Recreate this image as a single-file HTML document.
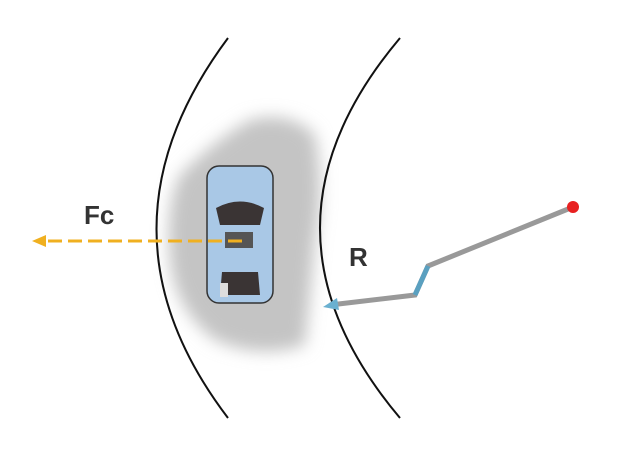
<!DOCTYPE html>
<html><head><style>body{margin:0;background:#fff}</style></head><body>
<svg width="631" height="461" xmlns="http://www.w3.org/2000/svg">
<defs><filter id="b" x="-30%" y="-30%" width="160%" height="160%"><feGaussianBlur stdDeviation="8"/></filter></defs>
<path d="M180,175 Q215,140 250,120 Q290,110 315,135 Q325,190 315,240 Q310,300 305,345 Q260,360 215,340 Q175,310 170,260 Q165,205 180,175Z" fill="#c4c4c4" filter="url(#b)"/>
<path d="M228,38 Q85,230 228,418" fill="none" stroke="#111" stroke-width="2"/>
<path d="M400,38 Q240,228 400,418" fill="none" stroke="#111" stroke-width="2"/>
<!-- car -->
<rect x="207" y="166" width="66" height="137" rx="12" fill="#a9c8e6" stroke="#333" stroke-width="1.5"/>
<path d="M216,208 Q240,195 264,208 L260,225 L220,225Z" fill="#3a3434"/>
<rect x="225" y="232" width="28" height="16" fill="#555"/>
<path d="M220,295 L222,272 L258,272 L260,295Z" fill="#3a3434"/>
<rect x="220" y="283" width="8" height="14" fill="#ddd"/>
<!-- Fc -->
<line x1="242" y1="241" x2="44" y2="241" stroke="#f0b020" stroke-width="3" stroke-dasharray="14,6"/>
<path d="M32,241 L46,235 L46,247Z" fill="#f0b020"/>
<text x="84" y="224" font-family="Liberation Sans,sans-serif" font-weight="bold" font-size="26" fill="#333">Fc</text>
<!-- R -->
<polyline points="573,207 428,266 415,295 330,305" fill="none" stroke="#999" stroke-width="5" stroke-linejoin="miter"/>
<line x1="428" y1="266" x2="415" y2="295" stroke="#5aa0c0" stroke-width="5"/>
<path d="M323,307 L337,298 L339,310Z" fill="#6ab0d0"/>
<circle cx="573" cy="207" r="6" fill="#e82020"/>
<text x="349" y="266" font-family="Liberation Sans,sans-serif" font-weight="bold" font-size="26" fill="#333">R</text>
</svg>
</body></html>
